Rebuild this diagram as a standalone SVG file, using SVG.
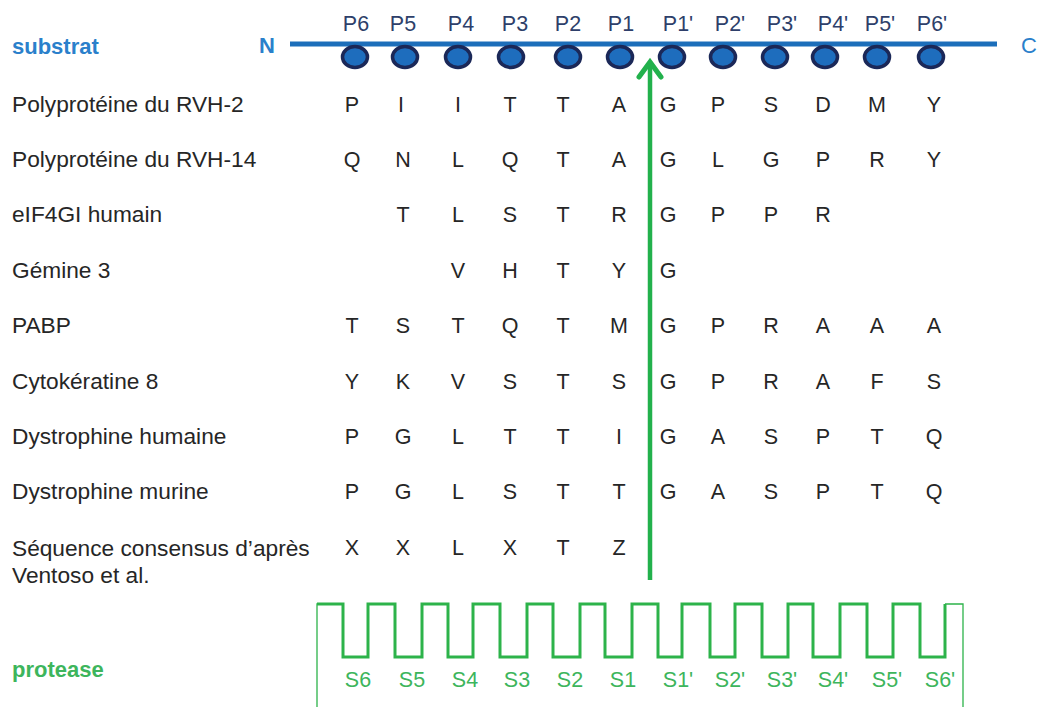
<svg xmlns="http://www.w3.org/2000/svg" width="1038" height="707" viewBox="0 0 1038 707">
<style>
text{font-family:"Liberation Sans",Arial,sans-serif}
.lab{font-size:22.7px;fill:#262626}
.aa{font-size:21.5px;fill:#262626;text-anchor:middle}
.pl{font-size:21.5px;fill:#2E3F6A;text-anchor:middle}
.sl{font-size:21.5px;fill:#3DB55C;text-anchor:middle}
.res{fill:#1E6DBD;stroke:#1B2858;stroke-width:3.5}
</style>
<rect width="1038" height="707" fill="#ffffff"/>
<g id="substrat">
<text x="12" y="54" style="font-size:22px;font-weight:bold;fill:#2A80CB">substrat</text>
<text x="259" y="53" style="font-size:22px;font-weight:bold;fill:#2A80CB">N</text>
<text x="1021" y="53" style="font-size:22px;fill:#2A80CB">C</text>
<line x1="290" y1="44" x2="997" y2="44" stroke="#1C6EBA" stroke-width="5"/>
<ellipse class="res" cx="355" cy="57" rx="12.5" ry="10.5"/>
<ellipse class="res" cx="405" cy="57" rx="12.5" ry="10.5"/>
<ellipse class="res" cx="458" cy="57" rx="12.5" ry="10.5"/>
<ellipse class="res" cx="511" cy="57" rx="12.5" ry="10.5"/>
<ellipse class="res" cx="568" cy="57" rx="12.5" ry="10.5"/>
<ellipse class="res" cx="620" cy="57" rx="12.5" ry="10.5"/>
<ellipse class="res" cx="672" cy="57" rx="12.5" ry="10.5"/>
<ellipse class="res" cx="723" cy="57" rx="12.5" ry="10.5"/>
<ellipse class="res" cx="775" cy="57" rx="12.5" ry="10.5"/>
<ellipse class="res" cx="825" cy="57" rx="12.5" ry="10.5"/>
<ellipse class="res" cx="877" cy="57" rx="12.5" ry="10.5"/>
<ellipse class="res" cx="931" cy="57" rx="12.5" ry="10.5"/>
<text class="pl" x="356" y="31">P6</text>
<text class="pl" x="403" y="31">P5</text>
<text class="pl" x="461" y="31">P4</text>
<text class="pl" x="515" y="31">P3</text>
<text class="pl" x="568" y="31">P2</text>
<text class="pl" x="621" y="31">P1</text>
<text class="pl" x="678" y="31">P1'</text>
<text class="pl" x="730" y="31">P2'</text>
<text class="pl" x="782" y="31">P3'</text>
<text class="pl" x="833" y="31">P4'</text>
<text class="pl" x="880" y="31">P5'</text>
<text class="pl" x="932" y="31">P6'</text>
</g>
<g id="rows">
<text class="lab" x="12" y="112">Polyprotéine du RVH-2</text>
<text class="lab" x="12" y="167">Polyprotéine du RVH-14</text>
<text class="lab" x="12" y="222">eIF4GI humain</text>
<text class="lab" x="12" y="278">Gémine 3</text>
<text class="lab" x="12" y="333">PABP</text>
<text class="lab" x="12" y="389">Cytokératine 8</text>
<text class="lab" x="12" y="444">Dystrophine humaine</text>
<text class="lab" x="12" y="499">Dystrophine murine</text>
<text class="lab" x="12" y="556">Séquence consensus d’après</text>
<text class="lab" x="12" y="583">Ventoso et al.</text>
</g>
<g id="residues">
<g transform="translate(0,112)"><text class="aa" x="352">P</text><text class="aa" x="401">I</text><text class="aa" x="458">I</text><text class="aa" x="510">T</text><text class="aa" x="563">T</text><text class="aa" x="619">A</text><text class="aa" x="668">G</text><text class="aa" x="718">P</text><text class="aa" x="771">S</text><text class="aa" x="823">D</text><text class="aa" x="877">M</text><text class="aa" x="934">Y</text></g>
<g transform="translate(0,167)"><text class="aa" x="352">Q</text><text class="aa" x="403">N</text><text class="aa" x="458">L</text><text class="aa" x="510">Q</text><text class="aa" x="563">T</text><text class="aa" x="619">A</text><text class="aa" x="668">G</text><text class="aa" x="718">L</text><text class="aa" x="771">G</text><text class="aa" x="823">P</text><text class="aa" x="877">R</text><text class="aa" x="934">Y</text></g>
<g transform="translate(0,222)"><text class="aa" x="403">T</text><text class="aa" x="458">L</text><text class="aa" x="510">S</text><text class="aa" x="563">T</text><text class="aa" x="619">R</text><text class="aa" x="668">G</text><text class="aa" x="718">P</text><text class="aa" x="771">P</text><text class="aa" x="823">R</text></g>
<g transform="translate(0,278)"><text class="aa" x="458">V</text><text class="aa" x="510">H</text><text class="aa" x="563">T</text><text class="aa" x="619">Y</text><text class="aa" x="668">G</text></g>
<g transform="translate(0,333)"><text class="aa" x="352">T</text><text class="aa" x="403">S</text><text class="aa" x="458">T</text><text class="aa" x="510">Q</text><text class="aa" x="563">T</text><text class="aa" x="619">M</text><text class="aa" x="668">G</text><text class="aa" x="718">P</text><text class="aa" x="771">R</text><text class="aa" x="823">A</text><text class="aa" x="877">A</text><text class="aa" x="934">A</text></g>
<g transform="translate(0,389)"><text class="aa" x="352">Y</text><text class="aa" x="403">K</text><text class="aa" x="458">V</text><text class="aa" x="510">S</text><text class="aa" x="563">T</text><text class="aa" x="619">S</text><text class="aa" x="668">G</text><text class="aa" x="718">P</text><text class="aa" x="771">R</text><text class="aa" x="823">A</text><text class="aa" x="877">F</text><text class="aa" x="934">S</text></g>
<g transform="translate(0,444)"><text class="aa" x="352">P</text><text class="aa" x="403">G</text><text class="aa" x="458">L</text><text class="aa" x="510">T</text><text class="aa" x="563">T</text><text class="aa" x="619">I</text><text class="aa" x="668">G</text><text class="aa" x="718">A</text><text class="aa" x="771">S</text><text class="aa" x="823">P</text><text class="aa" x="877">T</text><text class="aa" x="934">Q</text></g>
<g transform="translate(0,499)"><text class="aa" x="352">P</text><text class="aa" x="403">G</text><text class="aa" x="458">L</text><text class="aa" x="510">S</text><text class="aa" x="563">T</text><text class="aa" x="619">T</text><text class="aa" x="668">G</text><text class="aa" x="718">A</text><text class="aa" x="771">S</text><text class="aa" x="823">P</text><text class="aa" x="877">T</text><text class="aa" x="934">Q</text></g>
<g transform="translate(0,555)"><text class="aa" x="352">X</text><text class="aa" x="403">X</text><text class="aa" x="458">L</text><text class="aa" x="510">X</text><text class="aa" x="563">T</text><text class="aa" x="619">Z</text></g>
</g>
<g id="connectors">
<line x1="650" y1="580" x2="650" y2="62" stroke="#22B14C" stroke-width="4.5"/>
<polyline points="639,77 650,62 661,77" fill="none" stroke="#22B14C" stroke-width="5" stroke-linecap="round"/>
</g>
<g id="protease">
<text x="12" y="677" style="font-size:22px;font-weight:bold;fill:#3DB55C">protease</text>
<path d="M317,707 V604 H343" fill="none" stroke="#2DB34A" stroke-width="1.3"/>
<path d="M317,604 H343 V657 H368 V604 H395 V657 H422 V604 H448 V657 H473 V604 H500 V657 H527 V604 H553 V657 H580 V604 H605 V657 H632 V604 H658 V657 H682 V604 H710 V657 H735 V604 H762 V657 H788 V604 H813 V657 H840 V604 H867 V657 H893 V604 H920 V657 H945 V604" fill="none" stroke="#2DB34A" stroke-width="3"/>
<path d="M945,604 H963 V707" fill="none" stroke="#2DB34A" stroke-width="1.3"/>
<text class="sl" x="358" y="687">S6</text>
<text class="sl" x="412" y="687">S5</text>
<text class="sl" x="465" y="687">S4</text>
<text class="sl" x="517" y="687">S3</text>
<text class="sl" x="570" y="687">S2</text>
<text class="sl" x="623" y="687">S1</text>
<text class="sl" x="678" y="687">S1'</text>
<text class="sl" x="730" y="687">S2'</text>
<text class="sl" x="782" y="687">S3'</text>
<text class="sl" x="833" y="687">S4'</text>
<text class="sl" x="887" y="687">S5'</text>
<text class="sl" x="940" y="687">S6'</text>
</g>
</svg>
